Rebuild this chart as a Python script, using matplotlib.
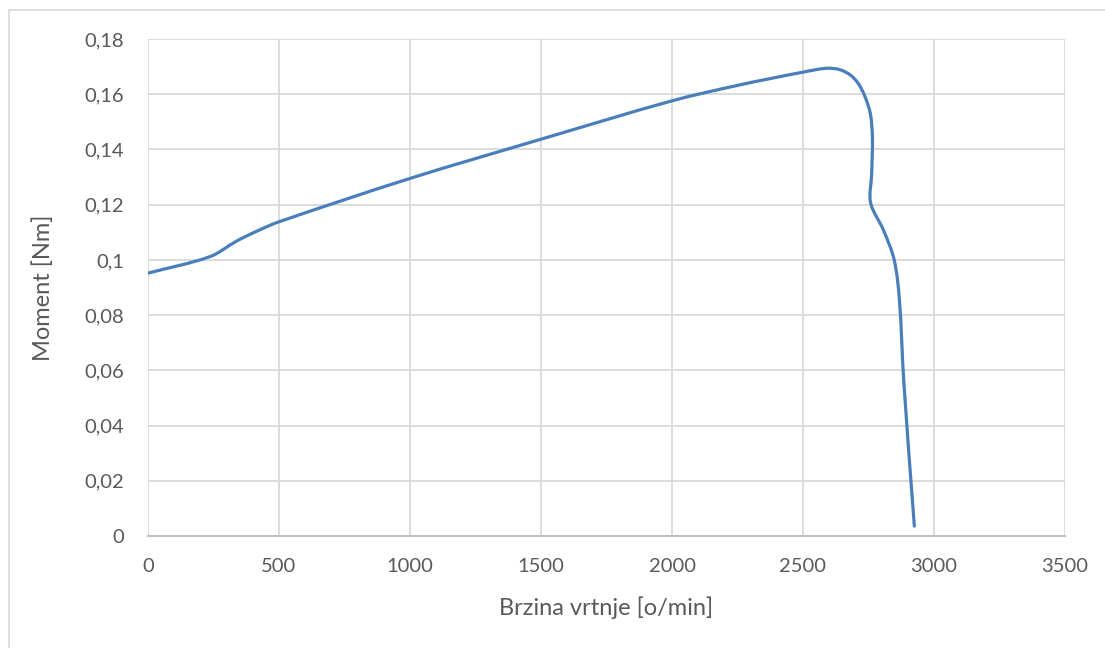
import matplotlib.pyplot as plt
from matplotlib.path import Path
from matplotlib.patches import PathPatch, Rectangle
from matplotlib.ticker import FuncFormatter
import numpy as np

plt.rcParams['font.family'] = ['Lato', 'DejaVu Sans']

# ocitano s grafa: brzina [o/min], moment [Nm]
brzina = [0, 237, 338, 420, 500, 1000, 1500, 2000, 2250, 2500, 2590, 2640, 2680, 2710, 2735,
          2757, 2765, 2762, 2758, 2807, 2848, 2868, 2885, 2925]
moment = [0.0952, 0.1012, 0.1068, 0.1106, 0.1138, 0.1295, 0.1437, 0.1576, 0.1632, 0.1680, 0.1694,
          0.1689, 0.1670, 0.1640, 0.1595, 0.1530, 0.1440, 0.1310, 0.1207, 0.1108, 0.1000, 0.0855,
          0.0554, 0.0036]

x_ticks = [0, 500, 1000, 1500, 2000, 2500, 3000, 3500]
y_ticks = [0, 0.02, 0.04, 0.06, 0.08, 0.1, 0.12, 0.14, 0.16, 0.18]

grid_c = '#d9d9d9'
text_c = '#595959'
line_c = '#4a7ebb'


def smooth_path(x, y, sx, sy):
    # glatka bezier linija (tangente skalirane po duljini segmenta, u pikselima)
    p = np.column_stack([np.array(x) * sx, np.array(y) * sy])
    n = len(p)
    d = np.hypot(*np.diff(p, axis=0).T)
    m = np.zeros_like(p)
    for i in range(n):
        if i == 0:
            m[i] = (p[1] - p[0]) / d[0]
        elif i == n - 1:
            m[i] = (p[-1] - p[-2]) / d[-1]
        else:
            m[i] = (p[i + 1] - p[i - 1]) / (d[i - 1] + d[i])
    verts = [p[0]]
    codes = [Path.MOVETO]
    for i in range(n - 1):
        verts += [p[i] + m[i] * d[i] / 3, p[i + 1] - m[i + 1] * d[i] / 3, p[i + 1]]
        codes += [Path.CURVE4] * 3
    verts = np.array(verts) / [sx, sy]
    return Path(verts, codes)


fig = plt.figure(figsize=(11.05, 6.48), dpi=100)
fig.patches.append(Rectangle((9 / 1105, -0.1), 1.2, (648 - 9.5) / 648 + 0.1, transform=fig.transFigure,
                             fill=False, edgecolor=grid_c, linewidth=1.2))
ax = fig.add_axes([148 / 1105, 112 / 648, 917 / 1105, 497 / 648])

ax.add_patch(PathPatch(smooth_path(brzina, moment, 917 / 3500, 497 / 0.18), facecolor='none',
                       edgecolor=line_c, linewidth=2.3, capstyle='round', joinstyle='round', zorder=3))

ax.set_xlim(0, 3500)
ax.set_ylim(0, 0.18)
ax.set_xticks(x_ticks)
ax.set_yticks(y_ticks)
fmt = FuncFormatter(lambda v, pos: '{:g}'.format(round(v, 2)).replace('.', ','))
ax.xaxis.set_major_formatter(fmt)
ax.yaxis.set_major_formatter(fmt)
ax.grid(True, color=grid_c, linewidth=1.3)
ax.set_axisbelow(True)
for s in ['top', 'right', 'left']:
    ax.spines[s].set_visible(False)
ax.spines['bottom'].set_color('#bfbfbf')
ax.spines['bottom'].set_linewidth(1.5)
ax.tick_params(axis='both', length=0, labelsize=14.5, labelcolor=text_c)
ax.tick_params(axis='y', pad=17)
ax.tick_params(axis='x', pad=16)

ax.set_xlabel('Brzina vrtnje [o/min]', fontsize=17, color=text_c)
ax.set_ylabel('Moment [Nm]', fontsize=17, color=text_c)
ax.xaxis.set_label_coords(0.5, -0.122)
ax.yaxis.set_label_coords(-0.103, 0.5)

fig.savefig('out.png', dpi=100)
